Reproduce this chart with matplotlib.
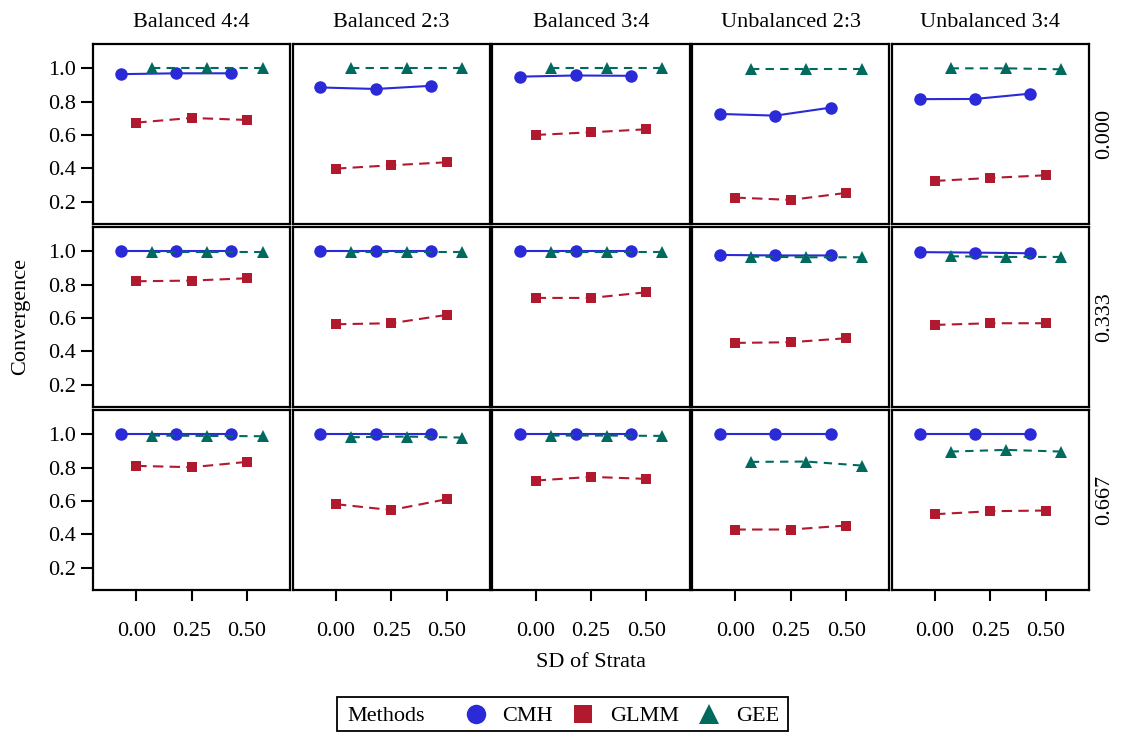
import numpy as np
import matplotlib
matplotlib.use("Agg")
import matplotlib.pyplot as plt
from matplotlib.lines import Line2D
from matplotlib.patches import Rectangle

plt.rcParams['font.family'] = ['Liberation Serif', 'DejaVu Serif']

# design factors
designs = ["Balanced 4:4", "Balanced 2:3", "Balanced 3:4", "Unbalanced 2:3", "Unbalanced 3:4"]
rows = ["0.000", "0.333", "0.667"]
sd_strata = [0.00, 0.25, 0.50]

# convergence rates: [row][design][sd]
cmh = [
    [[0.965, 0.970, 0.970], [0.885, 0.876, 0.895], [0.950, 0.957, 0.955], [0.726, 0.716, 0.764], [0.815, 0.816, 0.848]],
    [[1.000, 1.000, 1.000], [1.000, 1.000, 1.000], [1.000, 1.000, 1.000], [0.978, 0.975, 0.975], [0.995, 0.992, 0.988]],
    [[1.000, 1.000, 1.000], [1.000, 1.000, 1.000], [1.000, 1.000, 1.000], [1.000, 1.000, 1.000], [1.000, 1.000, 1.000]],
]
glmm = [
    [[0.674, 0.702, 0.690], [0.398, 0.418, 0.436], [0.600, 0.616, 0.634], [0.224, 0.210, 0.252], [0.324, 0.342, 0.358]],
    [[0.820, 0.824, 0.838], [0.562, 0.568, 0.618], [0.720, 0.720, 0.754], [0.450, 0.454, 0.478], [0.558, 0.568, 0.568]],
    [[0.810, 0.802, 0.834], [0.580, 0.545, 0.610], [0.722, 0.744, 0.732], [0.428, 0.428, 0.452], [0.520, 0.538, 0.542]],
]
gee = [
    [[1.000, 1.000, 1.000], [1.000, 1.000, 1.000], [1.000, 1.000, 1.000], [0.996, 0.996, 0.996], [1.000, 1.000, 0.994]],
    [[0.996, 0.996, 0.996], [0.996, 0.996, 0.996], [0.996, 0.996, 0.996], [0.968, 0.964, 0.964], [0.970, 0.966, 0.966]],
    [[0.992, 0.990, 0.988], [0.982, 0.986, 0.980], [0.992, 0.992, 0.990], [0.834, 0.836, 0.812], [0.896, 0.906, 0.896]],
]

methods = ["CMH", "GLMM", "GEE"]
colors = {"CMH": "#2B2AD8", "GLMM": "#B0192E", "GEE": "#006A5E"}
markers = {"CMH": "o", "GLMM": "s", "GEE": "^"}
msizes = {"CMH": 9, "GLMM": 7.5, "GEE": 9}
styles = {"CMH": "-", "GLMM": (0, (5, 3)), "GEE": (0, (4, 3))}
offsets = {"CMH": -0.07, "GLMM": 0.0, "GEE": 0.07}
data = {"CMH": cmh, "GLMM": glmm, "GEE": gee}

W, H = 1121, 732
fig, axes = plt.subplots(3, 5, figsize=(W / 100, H / 100), dpi=100, sharex=True, sharey=True)
fig.subplots_adjust(left=0.083, right=0.9715, top=0.9399, bottom=0.194, wspace=0.013, hspace=0.016)

fs = 16
for r in range(3):
    for c in range(5):
        ax = axes[r, c]
        for m in methods:
            x = np.array(sd_strata) + offsets[m]
            ax.plot(x, data[m][r][c], color=colors[m], linestyle=styles[m], linewidth=1.5,
                    marker=markers[m], markersize=msizes[m], markeredgewidth=0)
        ax.set_xlim(-0.195, 0.695)
        ax.set_ylim(0.065, 1.146)
        ax.set_xticks(sd_strata)
        ax.set_yticks([0.2, 0.4, 0.6, 0.8, 1.0])
        for s in ax.spines.values():
            s.set_linewidth(1.6)
        ax.tick_params(axis='y', direction='out', length=8.5, width=1.5, pad=4, labelsize=fs,
                       left=(c == 0), labelleft=(c == 0))
        ax.tick_params(axis='x', direction='out', length=8, width=1.5, pad=15, labelsize=fs,
                       bottom=(r == 2), labelbottom=(r == 2))
        if c == 0:
            ax.set_yticklabels(["0.2", "0.4", "0.6", "0.8", "1.0"])
        if r == 2:
            ax.set_xticklabels(["0.00", "0.25", "0.50"])
        if r == 0:
            ax.set_title(designs[c], fontsize=fs, pad=12)
        if c == 4:
            ax.text(1.08, 0.5, rows[r], transform=ax.transAxes, rotation=90,
                    ha='center', va='center', fontsize=fs)

fig.text(0.527, 1 - 667 / H, "SD of Strata", ha='center', va='baseline', fontsize=fs)
fig.text(0.018, 0.567, "Convergence", ha='center', va='center', rotation=90, fontsize=fs)

# legend box along the bottom
fig.patches.append(Rectangle((337 / W, 1 - 731 / H), 451 / W, 34 / H,
                             transform=fig.transFigure, fill=False, edgecolor='black', linewidth=1.3))
ly = 1 - 714 / H
fig.text(347 / W, 1 - 721 / H, "Methods", ha='left', va='baseline', fontsize=fs)
key_x = {"CMH": 476, "GLMM": 583, "GEE": 709}
text_x = {"CMH": 502, "GLMM": 610, "GEE": 736}
key_ms = {"CMH": 14, "GLMM": 12.5, "GEE": 14}
for m in methods:
    fig.add_artist(Line2D([key_x[m] / W], [ly], transform=fig.transFigure, color=colors[m],
                          marker=markers[m], markersize=key_ms[m], markeredgewidth=0, linestyle='none'))
    fig.text(text_x[m] / W, 1 - 721 / H, m, ha='left', va='baseline', fontsize=fs)

fig.savefig("out.png", dpi=100)
